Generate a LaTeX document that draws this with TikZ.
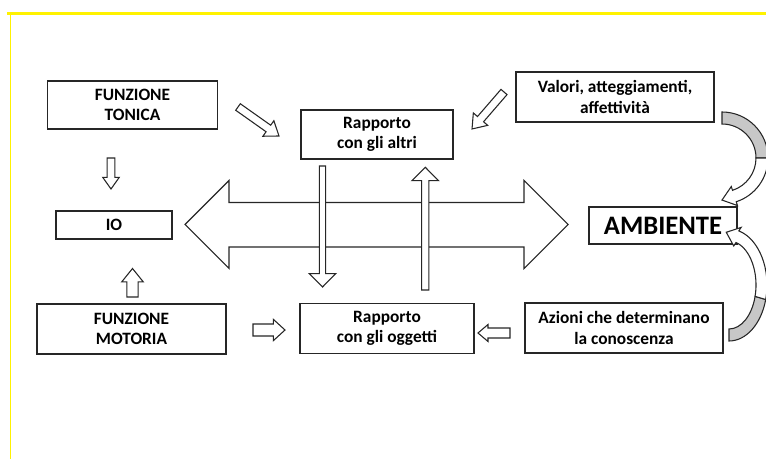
\documentclass[tikz,border=0pt]{standalone}
\usepackage{fontspec}
\setmainfont{Carlito}
\usetikzlibrary{calc}

\tikzset{
  box/.style={draw=black!85, line width=0.9pt, fill=white, align=center,
    inner sep=2pt, font=\bfseries\fontsize{13}{15.5}\selectfont},
  fatline/.style={draw=black!85, line width=0.8pt, fill=white, line join=miter},
  backband/.style={fill=black!22},
}

% block arrow from #1 to #2: shaft half width #3, head half width #4, head length #5 (px)
\newcommand{\fatarrow}[5]{%
  \draw[fatline] let \p1=(#1), \p2=(#2),
    \n1={atan2(\y2-\y1,\x2-\x1)}, \n2={veclen(\x2-\x1,\y2-\y1)} in
    [shift={(\p1)}, rotate=\n1]
    (0pt,{#3*0.75pt}) -- ({\n2-#5*0.75pt},{#3*0.75pt})
    -- ({\n2-#5*0.75pt},{#4*0.75pt}) -- (\n2,0pt)
    -- ({\n2-#5*0.75pt},{-#4*0.75pt}) -- ({\n2-#5*0.75pt},{-#3*0.75pt})
    -- (0pt,{-#3*0.75pt}) -- cycle;
}

\begin{document}
\begin{tikzpicture}[x=0.75pt, y=-0.75pt]
  \useasboundingbox (0,0) rectangle (766,459);

  % frame
  \draw[yellow, line width=2.2pt] (7,13.5) -- (766,13.5);
  \draw[yellow, line width=1.1pt] (10.5,13) -- (10.5,459);

  % boxes
  \node[box, minimum width=128pt, minimum height=36pt] (tonica) at (132.5,105) {FUNZIONE\\TONICA};
  \node[box, minimum width=87pt, minimum height=21pt] (io) at (114,225) {IO};
  \node[box, minimum width=141.75pt, minimum height=37.5pt] (motoria) at (131.5,329) {FUNZIONE\\MOTORIA};
  \node[box, minimum width=114pt, minimum height=36.75pt] (altri) at (377,134.5) {Rapporto\\con gli altri};
  \node[box, minimum width=130.5pt, minimum height=37.5pt] (oggetti) at (387,328.5) {Rapporto\\con gli oggetti};
  \node[box, minimum width=148.5pt, minimum height=37.5pt] (valori) at (615,97) {Valori, atteggiamenti,\\affettività};
  \node[box, minimum width=111pt, minimum height=27.75pt, font=\bfseries\fontsize{20}{24}\selectfont] (ambiente) at (663,225.5) {AMBIENTE};
  \node[box, minimum width=148.5pt, minimum height=37.5pt] (azioni) at (624,328) {Azioni che determinano\\la conoscenza};

  % big double arrow IO <-> AMBIENTE
  \draw[fatline] (185,224.5) -- (229,180.5) -- (229,202.5) -- (524,202.5) -- (524,180.5)
    -- (568,224.5) -- (524,268.5) -- (524,247) -- (229,247) -- (229,268.5) -- cycle;

  % block arrows
  \coordinate (t1) at (111,158);     \coordinate (h1) at (111,189);
  \coordinate (t2) at (132.5,297);   \coordinate (h2) at (132.5,268.5);
  \coordinate (t3) at (238,107);     \coordinate (h3) at (279,136);
  \coordinate (t4) at (504,92);      \coordinate (h4) at (472,129);
  \coordinate (t5) at (322.5,166);   \coordinate (h5) at (322.5,287);
  \coordinate (t6) at (425.3,290);   \coordinate (h6) at (425.3,167.3);
  \coordinate (t7) at (253,330);     \coordinate (h7) at (285,330);
  \coordinate (t8) at (510,333);     \coordinate (h8) at (478,333);
  \fatarrow{t1}{h1}{3.8}{8.3}{11.7}
  \fatarrow{t2}{h2}{5.7}{10.8}{13.4}
  \fatarrow{t3}{h3}{4}{9.5}{13}
  \fatarrow{t4}{h4}{4}{9.5}{13}
  \fatarrow{t5}{h5}{3.2}{13.3}{13.4}
  \fatarrow{t6}{h6}{3.6}{13.3}{13.4}
  \fatarrow{t7}{h7}{6}{10.7}{11.7}
  \fatarrow{t8}{h8}{5}{8.5}{10}

  % curved arrow valori -> ambiente
  \coordinate (c1) at (722,158);
  \coordinate (k1) at ($(c1)+(72:40)$);
  \path[backband, draw=black!85, line width=0.8pt] ($(c1)+(-90:46)$) arc[start angle=-90, end angle=0, radius=46]
    -- ($(c1)+(0:34)$) arc[start angle=0, end angle=-90, radius=34] -- cycle;
  \draw[fatline] ($(c1)+(0:46)$) arc[start angle=0, end angle=72, radius=46]
    -- ($(k1)+(72:10)$) -- ($(k1)+(162:13)$) -- ($(k1)+(252:10)$)
    -- ($(c1)+(72:34)$) arc[start angle=72, end angle=0, radius=34] -- cycle;

  % curved arrow azioni -> ambiente
  \coordinate (c2) at (729,285);
  \coordinate (k2) at ($(c2)+(-75:32.5 and 50)$);
  \path[backband, draw=black!85, line width=0.8pt] ($(c2)+(90:38 and 56)$) arc[start angle=90, end angle=15, x radius=38, y radius=56]
    -- ($(c2)+(15:27 and 44)$) arc[start angle=15, end angle=90, x radius=27, y radius=44] -- cycle;
  \draw[fatline] ($(c2)+(15:38 and 56)$) arc[start angle=15, end angle=-75, x radius=38, y radius=56]
    -- ($(k2)+(-68.4:10)$) -- ($(k2)+(201.6:12)$) -- ($(k2)+(111.6:10)$)
    -- ($(c2)+(-75:27 and 44)$) arc[start angle=-75, end angle=15, x radius=27, y radius=44] -- cycle;
\end{tikzpicture}
\end{document}
